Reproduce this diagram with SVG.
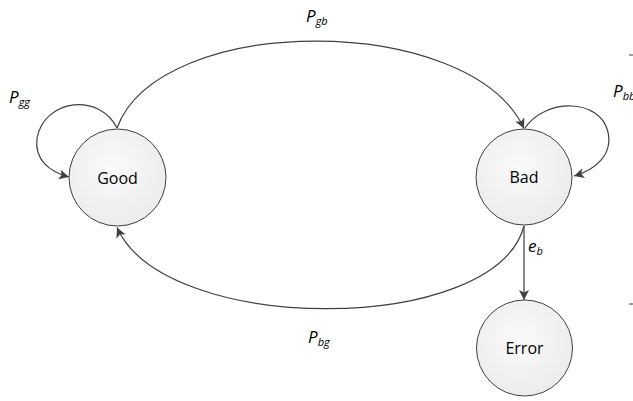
<svg xmlns="http://www.w3.org/2000/svg" width="633" height="401" viewBox="0 0 633 401">
<defs>
<radialGradient id="g" cx="0.45" cy="0.4" r="0.6">
<stop offset="0" stop-color="#fafafa"/>
<stop offset="1" stop-color="#ececec"/>
</radialGradient>
<marker id="arr" viewBox="0 0 10 10" refX="10" refY="5" markerWidth="10" markerHeight="10" markerUnits="userSpaceOnUse" orient="auto">
<path d="M0,0 L10,5 L0,10 L2.5,5 Z" fill="#404040"/>
</marker>
<style>
.node{fill:url(#g);stroke:#404040;stroke-width:1}
.lbl{font-family:"Open Sans","Liberation Sans",sans-serif;font-size:16px;fill:#000;text-anchor:middle}
.edge{fill:none;stroke:#404040;stroke-width:1.2;marker-end:url(#arr)}
.p{font-family:"Open Sans","Liberation Sans",sans-serif;font-style:italic;font-size:17px;fill:#000}
.s{font-size:11px}
</style>
</defs>
<rect width="633" height="401" fill="#ffffff"/>
<g id="connectors">
<path class="edge" d="M117,128 C160,12 470,12 524,128.5"/>
<path class="edge" d="M117,128 C100,93 45,98 37,138 C34,160 50,172 69,177"/>
<path class="edge" d="M525,128 C545,98 600,98 608,132 C613,155 595,170 574,176"/>
<path class="edge" d="M524,226 C495,336 165,336 117,227.5"/>
<path class="edge" d="M524,226 L524,300"/>
</g>
<g id="good">
<circle class="node" cx="117.5" cy="177.5" r="48.5"/>
<text class="lbl" x="117.5" y="183.5">Good</text>
</g>
<g id="bad">
<circle class="node" cx="524" cy="177" r="48"/>
<text class="lbl" x="524" y="183">Bad</text>
</g>
<g id="error">
<circle class="node" cx="524.5" cy="348" r="48"/>
<text class="lbl" x="524.5" y="354">Error</text>
</g>
<g id="labels">
<text class="p" x="306" y="22">P<tspan class="s" dy="3">gb</tspan></text>
<text class="p" x="9" y="103">P<tspan class="s" dy="3">gg</tspan></text>
<text class="p" x="613" y="97">P<tspan class="s" dy="3">bb</tspan></text>
<text class="p" x="308" y="343">P<tspan class="s" dy="3">bg</tspan></text>
<text class="p" x="528" y="252">e<tspan class="s" dy="3">b</tspan></text>
</g>
<g id="marks" stroke="#404040" stroke-width="1">
<line x1="629" y1="55" x2="633" y2="55"/>
<line x1="629" y1="304" x2="633" y2="304"/>
</g>
</svg>
